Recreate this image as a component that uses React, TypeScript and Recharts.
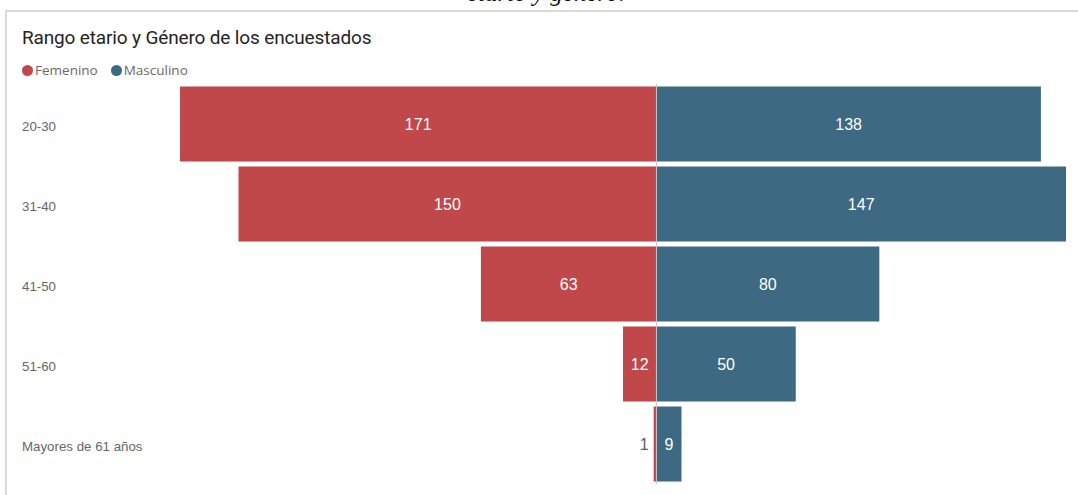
import { BarChart, Bar, XAxis, YAxis, LabelList, ReferenceLine } from 'recharts';

const AGE_GROUPS = ['20-30', '31-40', '41-50', '51-60', 'Mayores de 61 años'];
const FEMENINO = [171, 150, 63, 12, 1];
const MASCULINO = [138, 147, 80, 50, 9];
const SERIES = ['Femenino', 'Masculino'];

const RED = '#C0474A';
const BLUE = '#3D6A82';
const COLORS = [RED, BLUE];

const rows = AGE_GROUPS.map((age, i) => ({
  age,
  femenino: -FEMENINO[i],
  masculino: MASCULINO[i],
}));

function AgeTick({ y, payload }: { y?: number; payload?: { value: string } }) {
  return (
    <text x={22} y={(y ?? 0) + 2} dy="0.35em" textAnchor="start"
      fontFamily="'Liberation Sans', Arial, sans-serif" fontSize={13.3} fill="#666666">
      {payload?.value}
    </text>
  );
}

function FemLabel(props: any) {
  const { x, y, width, height, value } = props;
  const v = Math.abs(Number(value));
  const w = Math.abs(Number(width));
  const cx = Number(x) + Number(width) / 2;
  const cy = Number(y) + Number(height) / 2;
  if (w < 24) {
    const left = Math.min(Number(x), Number(x) + Number(width));
    return (
      <text x={left - 5} y={cy} dy="0.35em" textAnchor="end"
        fontFamily="'Liberation Sans', Arial, sans-serif" fontSize={16} fill="#605E5C">
        {v}
      </text>
    );
  }
  return (
    <text x={cx} y={cy} dy="0.35em" textAnchor="middle"
      fontFamily="'Liberation Sans', Arial, sans-serif" fontSize={16} fill="#ffffff">
      {v}
    </text>
  );
}

function MascLabel(props: any) {
  const { x, y, width, height, value } = props;
  return (
    <text x={Number(x) + Number(width) / 2} y={Number(y) + Number(height) / 2} dy="0.35em" textAnchor="middle"
      fontFamily="'Liberation Sans', Arial, sans-serif" fontSize={16} fill="#ffffff">
      {value}
    </text>
  );
}

export default function App() {
  return (
    <div style={{ position: 'fixed', left: 0, top: 0, width: 1078, height: 495, background: '#fff', overflow: 'hidden' }}>
      <div style={{
        position: 'absolute', left: 0, width: 1078, top: -21, textAlign: 'center',
        fontFamily: "'Liberation Serif', 'Times New Roman', serif", fontStyle: 'italic', fontSize: 25,
        color: '#111', paddingLeft: 14, boxSizing: 'border-box',
      }}>
        etario y género.
      </div>
      <div style={{ position: 'absolute', left: 5, top: 10, width: 1080, height: 500, borderTop: '2px solid #d9d9d9', borderLeft: '2px solid #d9d9d9' }} />
      <div style={{
        position: 'absolute', left: 22, top: 26, fontFamily: 'Roboto, sans-serif', fontSize: 19, color: '#252423',
        letterSpacing: -0.15,
      }}>
        Rango etario y Género de los encuestados
      </div>
      <div style={{ position: 'absolute', left: 22, top: 61, display: 'flex', alignItems: 'center', fontFamily: "'Open Sans', sans-serif", fontSize: 13.5, color: '#6b6966' }}>
        {SERIES.map((s, i) => (
          <div key={s} style={{ display: 'flex', alignItems: 'center', marginRight: 13 }}>
            <span style={{ width: 11, height: 11, borderRadius: 6, background: COLORS[i], display: 'inline-block', marginRight: 2 }} />
            {s}
          </div>
        ))}
      </div>
      <div style={{ position: 'absolute', left: 0, top: 0 }}>
        <BarChart width={1078} height={495} data={rows} layout="vertical" stackOffset="sign"
          margin={{ top: 84, right: 12, bottom: 11, left: 0 }} barCategoryGap={2.5}>
          <XAxis type="number" hide domain={[-171, 147]} allowDataOverflow />
          <YAxis type="category" dataKey="age" width={180} axisLine={false} tickLine={false} tick={<AgeTick />} />
          <Bar dataKey="femenino" stackId="g" fill={RED} isAnimationActive={false}>
            <LabelList dataKey="femenino" content={<FemLabel />} />
          </Bar>
          <Bar dataKey="masculino" stackId="g" fill={BLUE} isAnimationActive={false}>
            <LabelList dataKey="masculino" content={<MascLabel />} />
          </Bar>
          <ReferenceLine x={0} stroke="#c8c8c8" strokeWidth={1} segment={[{ x: 0, y: AGE_GROUPS[0] }, { x: 0, y: AGE_GROUPS[4] }]} />
        </BarChart>
      </div>
    </div>
  );
}
